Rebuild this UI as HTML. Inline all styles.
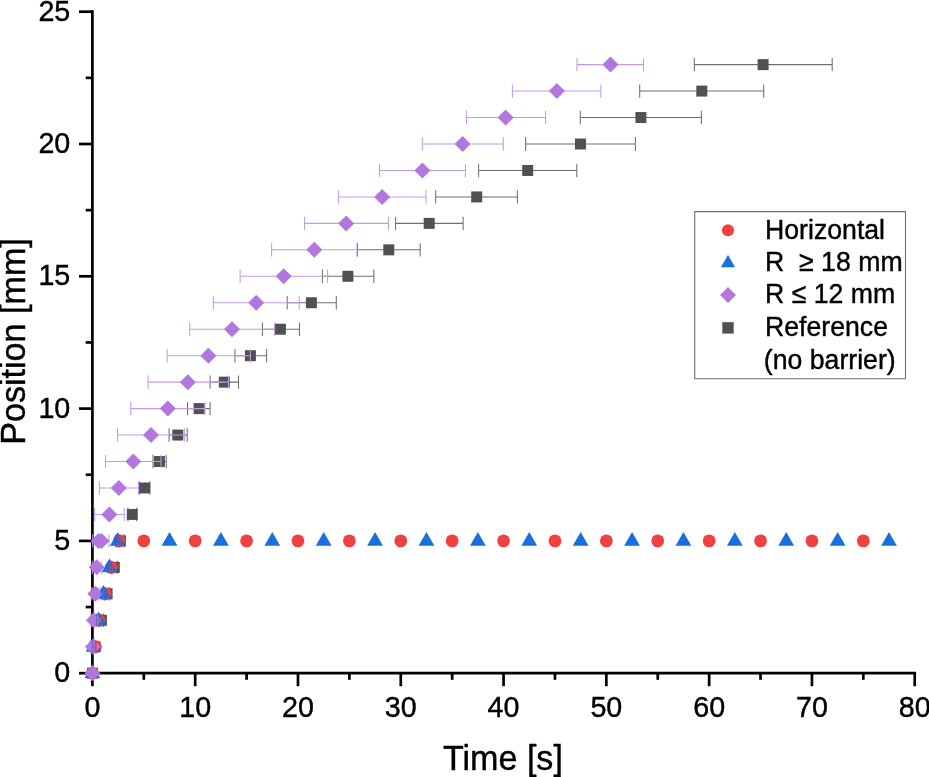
<!DOCTYPE html>
<html lang="en"><head><meta charset="utf-8"><title>Position vs Time</title>
<style>html,body{margin:0;padding:0;background:#fff;overflow:hidden}svg{display:block}text{font-family:"Liberation Sans",Arial,Helvetica,sans-serif;fill:#000;stroke:#000;stroke-width:0.4px}</style>
</head><body>
<svg width="929" height="777" viewBox="0 0 929 777">
<rect width="929" height="777" fill="#fff"/>
<g id="axes" stroke="#000" stroke-width="2.7" fill="none" stroke-linecap="butt">
<path d="M92.4 10.35V674.55"/>
<path d="M91.05 673.2H916.07"/>
<path d="M79 673.2H92.4"/>
<path d="M85.7 607.05H92.4"/>
<path d="M79 540.9H92.4"/>
<path d="M85.7 474.75H92.4"/>
<path d="M79 408.6H92.4"/>
<path d="M85.7 342.45H92.4"/>
<path d="M79 276.3H92.4"/>
<path d="M85.7 210.15H92.4"/>
<path d="M79 144H92.4"/>
<path d="M85.7 77.85H92.4"/>
<path d="M79 11.7H92.4"/>
<path d="M92.4 673.2V686.2"/>
<path d="M143.8 673.2V679.8"/>
<path d="M195.19 673.2V686.2"/>
<path d="M246.59 673.2V679.8"/>
<path d="M297.98 673.2V686.2"/>
<path d="M349.38 673.2V679.8"/>
<path d="M400.77 673.2V686.2"/>
<path d="M452.16 673.2V679.8"/>
<path d="M503.56 673.2V686.2"/>
<path d="M554.96 673.2V679.8"/>
<path d="M606.35 673.2V686.2"/>
<path d="M657.75 673.2V679.8"/>
<path d="M709.14 673.2V686.2"/>
<path d="M760.53 673.2V679.8"/>
<path d="M811.93 673.2V686.2"/>
<path d="M863.32 673.2V679.8"/>
<path d="M914.72 673.2V686.2"/>
</g>
<g id="reference">
<path d="M99.4 620.28H103.4M99.4 613.58V626.98M103.4 613.58V626.98" stroke="#6f6f6f" stroke-width="1.05" fill="none" opacity="1"/>
<path d="M104.6 593.82H109.6M104.6 587.12V600.52M109.6 587.12V600.52" stroke="#6f6f6f" stroke-width="1.05" fill="none" opacity="1"/>
<path d="M111.3 567.36H117.3M111.3 560.66V574.06M117.3 560.66V574.06" stroke="#6f6f6f" stroke-width="1.05" fill="none" opacity="1"/>
<path d="M117 540.9H124M117 534.2V547.6M124 534.2V547.6" stroke="#6f6f6f" stroke-width="1.05" fill="none" opacity="1"/>
<path d="M128 514.44H136.6M128 507.74V521.14M136.6 507.74V521.14" stroke="#6f6f6f" stroke-width="1.05" fill="none" opacity="1"/>
<path d="M139.2 487.98H149.9M139.2 481.28V494.68M149.9 481.28V494.68" stroke="#6f6f6f" stroke-width="1.05" fill="none" opacity="1"/>
<path d="M153 461.52H166.2M153 454.82V468.22M166.2 454.82V468.22" stroke="#6f6f6f" stroke-width="1.05" fill="none" opacity="1"/>
<path d="M169.1 435.06H187.2M169.1 428.36V441.76M187.2 428.36V441.76" stroke="#6f6f6f" stroke-width="1.05" fill="none" opacity="1"/>
<path d="M187.5 408.6H210.1M187.5 401.9V415.3M210.1 401.9V415.3" stroke="#6f6f6f" stroke-width="1.05" fill="none" opacity="1"/>
<path d="M210.1 382.14H238.5M210.1 375.44V388.84M238.5 375.44V388.84" stroke="#6f6f6f" stroke-width="1.05" fill="none" opacity="1"/>
<path d="M234.9 355.68H266.6M234.9 348.98V362.38M266.6 348.98V362.38" stroke="#6f6f6f" stroke-width="1.05" fill="none" opacity="1"/>
<path d="M262.4 329.22H299.5M262.4 322.52V335.92M299.5 322.52V335.92" stroke="#6f6f6f" stroke-width="1.05" fill="none" opacity="1"/>
<path d="M287.2 302.76H336.3M287.2 296.06V309.46M336.3 296.06V309.46" stroke="#6f6f6f" stroke-width="1.05" fill="none" opacity="1"/>
<path d="M322.4 276.3H373.8M322.4 269.6V283M373.8 269.6V283" stroke="#6f6f6f" stroke-width="1.05" fill="none" opacity="1"/>
<path d="M357.5 249.84H420.2M357.5 243.14V256.54M420.2 243.14V256.54" stroke="#6f6f6f" stroke-width="1.05" fill="none" opacity="1"/>
<path d="M395.6 223.38H463.1M395.6 216.68V230.08M463.1 216.68V230.08" stroke="#6f6f6f" stroke-width="1.05" fill="none" opacity="1"/>
<path d="M435.7 196.92H517.4M435.7 190.22V203.62M517.4 190.22V203.62" stroke="#6f6f6f" stroke-width="1.05" fill="none" opacity="1"/>
<path d="M478.6 170.46H576.8M478.6 163.76V177.16M576.8 163.76V177.16" stroke="#6f6f6f" stroke-width="1.05" fill="none" opacity="1"/>
<path d="M525.6 144H635.4M525.6 137.3V150.7M635.4 137.3V150.7" stroke="#6f6f6f" stroke-width="1.05" fill="none" opacity="1"/>
<path d="M580.3 117.54H701.4M580.3 110.84V124.24M701.4 110.84V124.24" stroke="#6f6f6f" stroke-width="1.05" fill="none" opacity="1"/>
<path d="M639.7 91.08H763.7M639.7 84.38V97.78M763.7 84.38V97.78" stroke="#6f6f6f" stroke-width="1.05" fill="none" opacity="1"/>
<path d="M694.3 64.62H832.2M694.3 57.92V71.32M832.2 57.92V71.32" stroke="#6f6f6f" stroke-width="1.05" fill="none" opacity="1"/>
<rect x="86.9" y="667.7" width="11.0" height="11.0" fill="#515151"/>
<rect x="89.5" y="641.24" width="11.0" height="11.0" fill="#515151"/>
<rect x="95.9" y="614.78" width="11.0" height="11.0" fill="#515151"/>
<rect x="101.6" y="588.32" width="11.0" height="11.0" fill="#515151"/>
<rect x="108.8" y="561.86" width="11.0" height="11.0" fill="#515151"/>
<rect x="115" y="535.4" width="11.0" height="11.0" fill="#515151"/>
<rect x="126.8" y="508.94" width="11.0" height="11.0" fill="#515151"/>
<rect x="139.1" y="482.48" width="11.0" height="11.0" fill="#515151"/>
<rect x="153.9" y="456.02" width="11.0" height="11.0" fill="#515151"/>
<rect x="172.3" y="429.56" width="11.0" height="11.0" fill="#515151"/>
<rect x="193.6" y="403.1" width="11.0" height="11.0" fill="#515151"/>
<rect x="218.8" y="376.64" width="11.0" height="11.0" fill="#515151"/>
<rect x="244.9" y="350.18" width="11.0" height="11.0" fill="#515151"/>
<rect x="274.9" y="323.72" width="11.0" height="11.0" fill="#515151"/>
<rect x="305.9" y="297.26" width="11.0" height="11.0" fill="#515151"/>
<rect x="342.4" y="270.8" width="11.0" height="11.0" fill="#515151"/>
<rect x="383.3" y="244.34" width="11.0" height="11.0" fill="#515151"/>
<rect x="423.7" y="217.88" width="11.0" height="11.0" fill="#515151"/>
<rect x="471.2" y="191.42" width="11.0" height="11.0" fill="#515151"/>
<rect x="522.2" y="164.96" width="11.0" height="11.0" fill="#515151"/>
<rect x="575" y="138.5" width="11.0" height="11.0" fill="#515151"/>
<rect x="635.4" y="112.04" width="11.0" height="11.0" fill="#515151"/>
<rect x="696.3" y="85.58" width="11.0" height="11.0" fill="#515151"/>
<rect x="757.6" y="59.12" width="11.0" height="11.0" fill="#515151"/>
</g>
<g id="horizontal" fill="#F14040">
<circle cx="92.4" cy="673.2" r="6.4"/>
<circle cx="95.4" cy="646.74" r="6.4"/>
<circle cx="99.1" cy="620.28" r="6.4"/>
<circle cx="105.5" cy="593.82" r="6.4"/>
<circle cx="111.3" cy="567.36" r="6.4"/>
<circle cx="119.3" cy="540.9" r="6.4"/>
<circle cx="143.8" cy="540.9" r="6.4"/>
<circle cx="195.19" cy="540.9" r="6.4"/>
<circle cx="246.59" cy="540.9" r="6.4"/>
<circle cx="297.98" cy="540.9" r="6.4"/>
<circle cx="349.38" cy="540.9" r="6.4"/>
<circle cx="400.77" cy="540.9" r="6.4"/>
<circle cx="452.16" cy="540.9" r="6.4"/>
<circle cx="503.56" cy="540.9" r="6.4"/>
<circle cx="554.96" cy="540.9" r="6.4"/>
<circle cx="606.35" cy="540.9" r="6.4"/>
<circle cx="657.75" cy="540.9" r="6.4"/>
<circle cx="709.14" cy="540.9" r="6.4"/>
<circle cx="760.53" cy="540.9" r="6.4"/>
<circle cx="811.93" cy="540.9" r="6.4"/>
<circle cx="863.32" cy="540.9" r="6.4"/>
</g>
<g id="r18" fill="#1A6FDF">
<path d="M92.4 664.3L100.3 678.1L84.5 678.1Z"/>
<path d="M93.6 637.84L101.5 651.64L85.7 651.64Z"/>
<path d="M98.7 611.38L106.6 625.18L90.8 625.18Z"/>
<path d="M103.4 584.92L111.3 598.72L95.5 598.72Z"/>
<path d="M109.5 558.46L117.4 572.26L101.6 572.26Z"/>
<path d="M117.8 532L125.7 545.8L109.9 545.8Z"/>
<path d="M169.49 532L177.39 545.8L161.59 545.8Z"/>
<path d="M220.89 532L228.79 545.8L212.99 545.8Z"/>
<path d="M272.28 532L280.18 545.8L264.38 545.8Z"/>
<path d="M323.68 532L331.58 545.8L315.78 545.8Z"/>
<path d="M375.07 532L382.97 545.8L367.17 545.8Z"/>
<path d="M426.47 532L434.37 545.8L418.57 545.8Z"/>
<path d="M477.86 532L485.76 545.8L469.96 545.8Z"/>
<path d="M529.26 532L537.16 545.8L521.36 545.8Z"/>
<path d="M580.65 532L588.55 545.8L572.75 545.8Z"/>
<path d="M632.05 532L639.95 545.8L624.15 545.8Z"/>
<path d="M683.44 532L691.34 545.8L675.54 545.8Z"/>
<path d="M734.84 532L742.74 545.8L726.94 545.8Z"/>
<path d="M786.23 532L794.13 545.8L778.33 545.8Z"/>
<path d="M837.63 532L845.53 545.8L829.73 545.8Z"/>
<path d="M889.02 532L896.92 545.8L881.12 545.8Z"/>
</g>
<g id="r12">
<path d="M90.5 646.74H95.3M90.5 640.04V653.44M95.3 640.04V653.44" stroke="#c39aea" stroke-width="1.05" fill="none" opacity="1"/>
<path d="M91 620.28H96.8M91 613.58V626.98M96.8 613.58V626.98" stroke="#c39aea" stroke-width="1.05" fill="none" opacity="1"/>
<path d="M92 593.82H98.8M92 587.12V600.52M98.8 587.12V600.52" stroke="#c39aea" stroke-width="1.05" fill="none" opacity="1"/>
<path d="M92.3 567.36H101.1M92.3 560.66V574.06M101.1 560.66V574.06" stroke="#c39aea" stroke-width="1.05" fill="none" opacity="1"/>
<path d="M92.7 540.9H109M92.7 534.2V547.6M109 534.2V547.6" stroke="#c39aea" stroke-width="1.05" fill="none" opacity="1"/>
<path d="M94.7 514.44H124.2M94.7 507.74V521.14M124.2 507.74V521.14" stroke="#c39aea" stroke-width="1.05" fill="none" opacity="1"/>
<path d="M99.4 487.98H138.5M99.4 481.28V494.68M138.5 481.28V494.68" stroke="#c39aea" stroke-width="1.05" fill="none" opacity="1"/>
<path d="M105.5 461.52H161M105.5 454.82V468.22M161 454.82V468.22" stroke="#c39aea" stroke-width="1.05" fill="none" opacity="1"/>
<path d="M117.5 435.06H184.6M117.5 428.36V441.76M184.6 428.36V441.76" stroke="#c39aea" stroke-width="1.05" fill="none" opacity="1"/>
<path d="M130.7 408.6H205M130.7 401.9V415.3M205 401.9V415.3" stroke="#c39aea" stroke-width="1.05" fill="none" opacity="1"/>
<path d="M148.1 382.14H228.5M148.1 375.44V388.84M228.5 375.44V388.84" stroke="#c39aea" stroke-width="1.05" fill="none" opacity="1"/>
<path d="M167.1 355.68H250.4M167.1 348.98V362.38M250.4 348.98V362.38" stroke="#c39aea" stroke-width="1.05" fill="none" opacity="1"/>
<path d="M189.7 329.22H274.6M189.7 322.52V335.92M274.6 322.52V335.92" stroke="#c39aea" stroke-width="1.05" fill="none" opacity="1"/>
<path d="M213.3 302.76H299.2M213.3 296.06V309.46M299.2 296.06V309.46" stroke="#c39aea" stroke-width="1.05" fill="none" opacity="1"/>
<path d="M240.1 276.3H327.6M240.1 269.6V283M327.6 269.6V283" stroke="#c39aea" stroke-width="1.05" fill="none" opacity="1"/>
<path d="M271.6 249.84H356.9M271.6 243.14V256.54M356.9 243.14V256.54" stroke="#c39aea" stroke-width="1.05" fill="none" opacity="1"/>
<path d="M304.6 223.38H388.5M304.6 216.68V230.08M388.5 216.68V230.08" stroke="#c39aea" stroke-width="1.05" fill="none" opacity="1"/>
<path d="M338.5 196.92H426M338.5 190.22V203.62M426 190.22V203.62" stroke="#c39aea" stroke-width="1.05" fill="none" opacity="1"/>
<path d="M379.5 170.46H465.4M379.5 163.76V177.16M465.4 163.76V177.16" stroke="#c39aea" stroke-width="1.05" fill="none" opacity="1"/>
<path d="M422.3 144H503.3M422.3 137.3V150.7M503.3 137.3V150.7" stroke="#c39aea" stroke-width="1.05" fill="none" opacity="1"/>
<path d="M466.5 117.54H545.6M466.5 110.84V124.24M545.6 110.84V124.24" stroke="#c39aea" stroke-width="1.05" fill="none" opacity="1"/>
<path d="M512.4 91.08H600.8M512.4 84.38V97.78M600.8 84.38V97.78" stroke="#c39aea" stroke-width="1.05" fill="none" opacity="1"/>
<path d="M577 64.62H643.5M577 57.92V71.32M643.5 57.92V71.32" stroke="#c39aea" stroke-width="1.05" fill="none" opacity="1"/>
<path d="M92.5 665.2L100.5 673.2L92.5 681.2L84.5 673.2Z" fill="#B177DE"/>
<path d="M92.9 638.74L100.9 646.74L92.9 654.74L84.9 646.74Z" fill="#B177DE"/>
<path d="M93.9 612.28L101.9 620.28L93.9 628.28L85.9 620.28Z" fill="#B177DE"/>
<path d="M95.4 585.82L103.4 593.82L95.4 601.82L87.4 593.82Z" fill="#B177DE"/>
<path d="M96.7 559.36L104.7 567.36L96.7 575.36L88.7 567.36Z" fill="#B177DE"/>
<path d="M109.4 506.44L117.4 514.44L109.4 522.44L101.4 514.44Z" fill="#B177DE"/>
<path d="M118.8 479.98L126.8 487.98L118.8 495.98L110.8 487.98Z" fill="#B177DE"/>
<path d="M133.3 453.52L141.3 461.52L133.3 469.52L125.3 461.52Z" fill="#B177DE"/>
<path d="M151 427.06L159 435.06L151 443.06L143 435.06Z" fill="#B177DE"/>
<path d="M167.8 400.6L175.8 408.6L167.8 416.6L159.8 408.6Z" fill="#B177DE"/>
<path d="M187.8 374.14L195.8 382.14L187.8 390.14L179.8 382.14Z" fill="#B177DE"/>
<path d="M208.4 347.68L216.4 355.68L208.4 363.68L200.4 355.68Z" fill="#B177DE"/>
<path d="M232 321.22L240 329.22L232 337.22L224 329.22Z" fill="#B177DE"/>
<path d="M256.2 294.76L264.2 302.76L256.2 310.76L248.2 302.76Z" fill="#B177DE"/>
<path d="M283.7 268.3L291.7 276.3L283.7 284.3L275.7 276.3Z" fill="#B177DE"/>
<path d="M314.3 241.84L322.3 249.84L314.3 257.84L306.3 249.84Z" fill="#B177DE"/>
<path d="M346.2 215.38L354.2 223.38L346.2 231.38L338.2 223.38Z" fill="#B177DE"/>
<path d="M382.1 188.92L390.1 196.92L382.1 204.92L374.1 196.92Z" fill="#B177DE"/>
<path d="M422.4 162.46L430.4 170.46L422.4 178.46L414.4 170.46Z" fill="#B177DE"/>
<path d="M462.6 136L470.6 144L462.6 152L454.6 144Z" fill="#B177DE"/>
<path d="M505.6 109.54L513.6 117.54L505.6 125.54L497.6 117.54Z" fill="#B177DE"/>
<path d="M556.9 83.08L564.9 91.08L556.9 99.08L548.9 91.08Z" fill="#B177DE"/>
<path d="M610.5 56.62L618.5 64.62L610.5 72.62L602.5 64.62Z" fill="#B177DE"/>
<path d="M98.5 532.9L106.5 540.9L98.5 548.9L90.5 540.9Z" fill="#B177DE"/>
<path d="M101.5 532.9L109.5 540.9L101.5 548.9L93.5 540.9Z" fill="#B177DE"/>
</g>
<g id="smallerr">
<path d="M92.2 646.74H95.5M92.2 640.24V653.24M95.5 640.24V653.24" stroke="#1A6FDF" stroke-width="0.9" fill="none" opacity="0.75"/>
<path d="M96.5 620.28H101.6M96.5 613.78V626.78M101.6 613.78V626.78" stroke="#1A6FDF" stroke-width="0.9" fill="none" opacity="0.75"/>
<path d="M101.1 593.82H105.8M101.1 587.32V600.32M105.8 587.32V600.32" stroke="#1A6FDF" stroke-width="0.9" fill="none" opacity="0.75"/>
<path d="M108.1 567.36H110.9M108.1 560.86V573.86M110.9 560.86V573.86" stroke="#1A6FDF" stroke-width="0.9" fill="none" opacity="0.75"/>
<path d="M115.8 540.9H119.8M115.8 534.4V547.4M119.8 534.4V547.4" stroke="#1A6FDF" stroke-width="0.9" fill="none" opacity="0.75"/>
<path d="M93.9 646.74H96.5M93.9 640.24V653.24M96.5 640.24V653.24" stroke="#F14040" stroke-width="0.9" fill="none" opacity="0.6"/>
<path d="M98.6 620.28H100M98.6 613.78V626.78M100 613.78V626.78" stroke="#F14040" stroke-width="0.9" fill="none" opacity="0.6"/>
<path d="M103.7 593.82H107.3M103.7 587.32V600.32M107.3 587.32V600.32" stroke="#F14040" stroke-width="0.9" fill="none" opacity="0.6"/>
<path d="M110.4 567.36H112.4M110.4 560.86V573.86M112.4 560.86V573.86" stroke="#F14040" stroke-width="0.9" fill="none" opacity="0.6"/>
<path d="M118.5 540.9H120.2M118.5 534.4V547.4M120.2 534.4V547.4" stroke="#F14040" stroke-width="0.9" fill="none" opacity="0.6"/>
</g>
<g id="ticklabels" font-size="28.7">
<text transform="translate(70.3 682.1) scale(1 1.055)" text-anchor="end">0</text>
<text transform="translate(70.3 549.8) scale(1 1.055)" text-anchor="end">5</text>
<text transform="translate(70.3 417.5) scale(1 1.055)" text-anchor="end">10</text>
<text transform="translate(70.3 285.2) scale(1 1.055)" text-anchor="end">15</text>
<text transform="translate(70.3 152.9) scale(1 1.055)" text-anchor="end">20</text>
<text transform="translate(70.3 20.6) scale(1 1.055)" text-anchor="end">25</text>
<text transform="translate(92.4 717.2) scale(1 1.055)" text-anchor="middle">0</text>
<text transform="translate(195.19 717.2) scale(1 1.055)" text-anchor="middle">10</text>
<text transform="translate(297.98 717.2) scale(1 1.055)" text-anchor="middle">20</text>
<text transform="translate(400.77 717.2) scale(1 1.055)" text-anchor="middle">30</text>
<text transform="translate(503.56 717.2) scale(1 1.055)" text-anchor="middle">40</text>
<text transform="translate(606.35 717.2) scale(1 1.055)" text-anchor="middle">50</text>
<text transform="translate(709.14 717.2) scale(1 1.055)" text-anchor="middle">60</text>
<text transform="translate(811.93 717.2) scale(1 1.055)" text-anchor="middle">70</text>
<text transform="translate(914.72 717.2) scale(1 1.055)" text-anchor="middle">80</text>
</g>
<text transform="translate(502.9 770) scale(1 1.055)" text-anchor="middle" font-size="34.1">Time [s]</text>
<text transform="translate(25.3 341.5) rotate(-90) scale(1 1.055)" font-size="34.1" text-anchor="middle">Position [mm]</text>
<g id="legend">
<rect x="694.7" y="211.6" width="210.8" height="167.2" fill="#fff" stroke="#6e6e6e" stroke-width="1.1" stroke-linejoin="round"/>
<circle cx="728" cy="230.2" r="6.05" fill="#F14040"/>
<path d="M728 255L735.1 267.2L720.9 267.2Z" fill="#1A6FDF"/>
<path d="M728 287L736 295L728 303L720 295Z" fill="#B177DE"/>
<rect x="722.3" y="322.2" width="11.4" height="11.4" fill="#515151"/>
<g font-size="26.67">
<text transform="translate(765 239.4) scale(1 1.055)" text-anchor="start">Horizontal</text>
<text transform="translate(765 271.2) scale(1 1.055)" text-anchor="start" xml:space="preserve" style="white-space:pre">R  ≥ 18 mm</text>
<text transform="translate(765 303.4) scale(1 1.055)" text-anchor="start">R ≤ 12 mm</text>
<text transform="translate(765 336.2) scale(1 1.055)" text-anchor="start">Reference</text>
<text transform="translate(763.8 369.3) scale(1 1.055)" text-anchor="start">(no barrier)</text>
</g></g>
</svg>
</body></html>
